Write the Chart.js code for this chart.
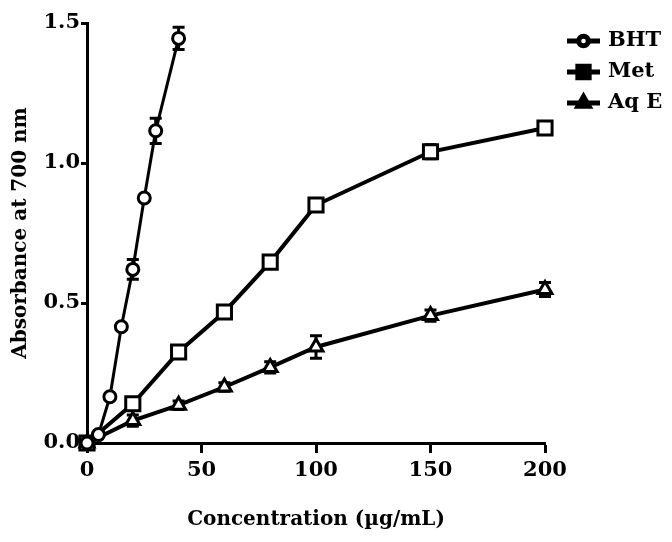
<!DOCTYPE html>
<html>
<head>
<meta charset="utf-8">
<script src="https://cdn.jsdelivr.net/npm/chart.js@4"></script>
<style>
  body { margin: 0; background: #fff; }
  canvas { display: block; }
</style>
</head>
<body>
<canvas id="absChart" width="672" height="542"></canvas>
<script>
// data
const seriesNames = ['BHT', 'Met', 'Aq E'];

const bhtConc = [0, 5, 10, 15, 20, 25, 30, 40];
const bhtAbs = [0.0, 0.03, 0.165, 0.415, 0.62, 0.875, 1.115, 1.445];
const bhtErr = [0, 0, 0.01, 0.01, 0.035, 0.01, 0.045, 0.04];

const metConc = [0, 20, 40, 60, 80, 100, 150, 200];
const metAbs = [0.0, 0.14, 0.325, 0.468, 0.646, 0.85, 1.04, 1.125];
const metErr = [0, 0.01, 0.02, 0.02, 0.02, 0.02, 0.025, 0.02];

const aqeConc = [0, 20, 40, 60, 80, 100, 150, 200];
const aqeAbs = [0.0, 0.08, 0.135, 0.2, 0.27, 0.343, 0.455, 0.548];
const aqeErr = [0, 0.02, 0.015, 0.015, 0.02, 0.04, 0.02, 0.025];

const xTicks = [0, 50, 100, 150, 200];
const yTicks = [0.0, 0.5, 1.0, 1.5];

const toPoints = (xs, ys) => xs.map((x, i) => ({ x: x, y: ys[i] }));

const errorBars = {
    id: 'errorBars',
    beforeDatasetsDraw(chart) {
        const ctx = chart.ctx;
        const xs = chart.scales.x;
        const ys = chart.scales.y;
        ctx.save();
        ctx.strokeStyle = '#000';
        ctx.lineWidth = 3;
        chart.data.datasets.forEach((ds) => {
            ds.data.forEach((p, i) => {
                const e = ds.errors[i];
                if (!e) return;
                const px = xs.getPixelForValue(p.x);
                const top = ys.getPixelForValue(p.y + e);
                const bot = ys.getPixelForValue(p.y - e);
                ctx.beginPath();
                ctx.moveTo(px, top); ctx.lineTo(px, bot);
                ctx.moveTo(px - 6, top); ctx.lineTo(px + 6, top);
                ctx.moveTo(px - 6, bot); ctx.lineTo(px + 6, bot);
                ctx.stroke();
            });
        });
        ctx.restore();
    }
};

const sideLegend = {
    id: 'sideLegend',
    afterDraw(chart) {
        const ctx = chart.ctx;
        const area = chart.chartArea;
        ctx.save();
        chart.data.datasets.forEach((ds, i) => {
            const y = area.top + 18 + i * 31;
            const x0 = area.right + 22;
            const x1 = area.right + 55;
            ctx.strokeStyle = '#000';
            ctx.lineWidth = 5;
            ctx.beginPath();
            ctx.moveTo(x0, y); ctx.lineTo(x1, y);
            ctx.stroke();
            Chart.helpers.drawPoint(ctx, {
                pointStyle: ds.pointStyle,
                radius: ds.pointRadius * 0.8,
                borderWidth: 3
            }, (x0 + x1) / 2, y);
            ctx.fillStyle = '#000';
            ctx.font = 'bold 21px "DejaVu Serif"';
            ctx.textBaseline = 'middle';
            ctx.textAlign = 'left';
            ctx.fillText(ds.label, x1 + 8, y);
        });
        ctx.restore();
    }
};

const makeSet = (label, xs, ys, errs, style, radius, width) => ({
    label: label,
    data: toPoints(xs, ys),
    errors: errs,
    borderColor: '#000',
    backgroundColor: '#fff',
    borderWidth: width,
    pointStyle: style,
    pointRadius: radius,
    pointBorderWidth: 3,
    pointBorderColor: '#000',
    pointBackgroundColor: '#fff',
    tension: 0,
    clip: false
});

const tickFont = { family: 'DejaVu Serif', weight: 'bold', size: 21 };
const titleFont = { family: 'DejaVu Serif', weight: 'bold', size: 20 };

new Chart(document.getElementById('absChart'), {
    type: 'line',
    data: {
        datasets: [
            makeSet(seriesNames[0], bhtConc, bhtAbs, bhtErr, 'circle', 6, 3),
            makeSet(seriesNames[1], metConc, metAbs, metErr, 'rect', 10, 4),
            makeSet(seriesNames[2], aqeConc, aqeAbs, aqeErr, 'triangle', 8, 4)
        ]
    },
    options: {
        responsive: false,
        animation: false,
        devicePixelRatio: 1,
        layout: { padding: { top: 23, right: 127, left: 0, bottom: 0 } },
        plugins: {
            legend: { display: false },
            tooltip: { enabled: false }
        },
        scales: {
            x: {
                type: 'linear',
                min: 0,
                max: 200,
                afterFit(scale) { scale.height = 99; },
                afterBuildTicks(scale) { scale.ticks = xTicks.map(v => ({ value: v })); },
                border: { color: '#000', width: 3 },
                grid: { drawOnChartArea: false, drawTicks: true, tickLength: 10, tickWidth: 3, tickColor: '#000' },
                ticks: { color: '#000', font: tickFont, padding: 5, maxRotation: 0 },
                title: {
                    display: true,
                    text: 'Concentration (µg/mL)',
                    color: '#000',
                    font: titleFont,
                    padding: { top: 0, bottom: 10 }
                }
            },
            y: {
                type: 'linear',
                min: 0,
                max: 1.5,
                afterFit(scale) { scale.width = 87; },
                afterBuildTicks(scale) { scale.ticks = yTicks.map(v => ({ value: v })); },
                border: { color: '#000', width: 3 },
                grid: { drawOnChartArea: false, drawTicks: true, tickLength: 6, tickWidth: 3, tickColor: '#000' },
                ticks: {
                    color: '#000',
                    font: tickFont,
                    padding: 1,
                    callback: (v) => Number(v).toFixed(1)
                },
                title: {
                    display: true,
                    text: 'Absorbance at 700 nm',
                    color: '#000',
                    font: titleFont,
                    padding: { top: 9, bottom: 0 }
                }
            }
        }
    },
    plugins: [errorBars, sideLegend]
});
</script>
</body>
</html>
